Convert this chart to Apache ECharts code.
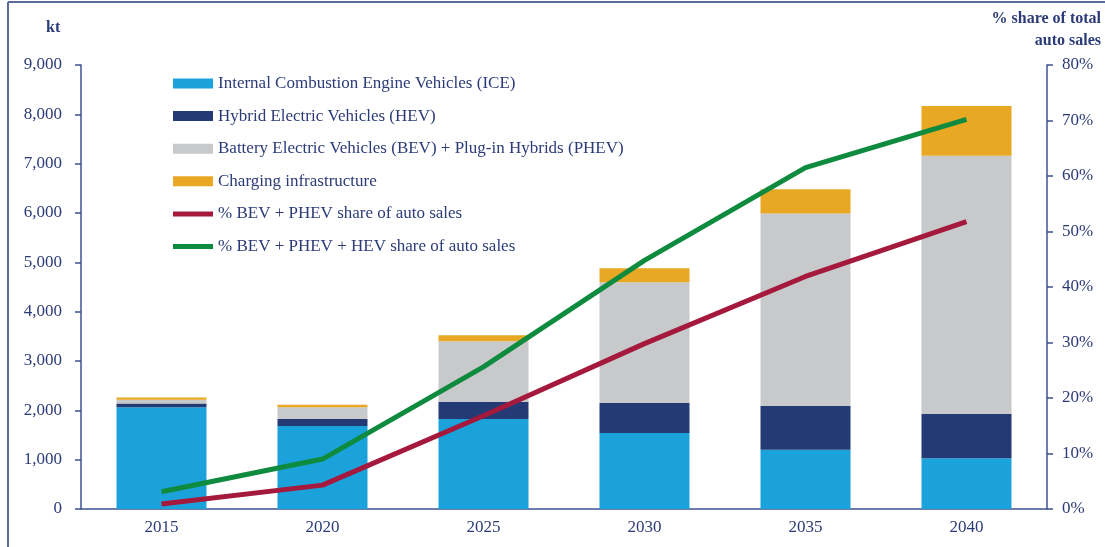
<!DOCTYPE html>
<html>
<head>
<meta charset="utf-8">
<script src="https://cdn.jsdelivr.net/npm/echarts@6/dist/echarts.min.js"></script>
<style>
  html, body { margin: 0; padding: 0; background: #fff; }
  #chart { width: 1105px; height: 547px; }
</style>
</head>
<body>
<div id="chart"></div>
<script>
var years = ['2015', '2020', '2025', '2030', '2035', '2040'];

// kt, stacked
var ice = [2060, 1680, 1825, 1540, 1200, 1030];
var hev = [80, 145, 350, 610, 895, 895];
var bevPhev = [75, 235, 1225, 2445, 3895, 5235];
var charging = [45, 55, 120, 285, 490, 1010];

// % share of total auto sales
var shareBev = [0.9, 4.3, 16.8, 29.8, 41.9, 51.8];
var shareBevHev = [3.1, 9.0, 25.6, 44.8, 61.5, 70.2];

var names = [
    'Internal Combustion Engine Vehicles (ICE)',
    'Hybrid Electric Vehicles (HEV)',
    'Battery Electric Vehicles (BEV) + Plug-in Hybrids (PHEV)',
    'Charging infrastructure',
    '% BEV + PHEV share of auto sales',
    '% BEV + PHEV + HEV share of auto sales'
];

var navy = '#2c3b78';
var axisColor = '#3f5191';
var serif = '"Liberation Serif", "DejaVu Serif", serif';
var thinIcon = 'path://M0,0H40V5H0Z';

var myChart = echarts.init(document.getElementById('chart'));

var option = {
    animation: false,
    textStyle: { fontFamily: serif, color: navy },
    grid: { left: 81, right: 58, top: 65, bottom: 38 },
    legend: {
        orient: 'vertical',
        left: 168,
        top: 70,
        itemWidth: 40,
        itemHeight: 10,
        itemGap: 15.6,
        textStyle: { fontFamily: serif, fontSize: 17, color: navy },
        data: [
            { name: names[0], icon: 'rect' },
            { name: names[1], icon: 'rect' },
            { name: names[2], icon: 'rect' },
            { name: names[3], icon: 'rect' },
            { name: names[4], icon: thinIcon },
            { name: names[5], icon: thinIcon }
        ]
    },
    graphic: [
        { type: 'line', shape: { x1: 8, y1: 2, x2: 8, y2: 547 }, style: { stroke: '#5b6b9b', lineWidth: 2 } },
        { type: 'line', shape: { x1: 8, y1: 2, x2: 1105, y2: 2 }, style: { stroke: '#5b6b9b', lineWidth: 2 } },
        { type: 'text', left: 46, top: 20, style: { text: 'kt', font: 'bold 16px ' + serif, fill: navy } },
        { type: 'text', right: 4, top: 11, style: { text: '% share of total', font: 'bold 16px ' + serif, fill: navy } },
        { type: 'text', right: 4, top: 33, style: { text: 'auto sales', font: 'bold 16px ' + serif, fill: navy } }
    ],
    xAxis: {
        type: 'category',
        data: years,
        axisLine: { lineStyle: { color: axisColor, width: 1.5 } },
        axisTick: { length: 5, lineStyle: { color: axisColor, width: 1.5 } },
        axisLabel: { color: navy, fontSize: 17, fontFamily: serif, margin: 10 }
    },
    yAxis: [
        {
            type: 'value',
            min: 0,
            max: 9000,
            interval: 1000,
            splitLine: { show: false },
            axisLine: { show: true, lineStyle: { color: axisColor, width: 1.5 } },
            axisTick: { show: true, length: 6, lineStyle: { color: axisColor, width: 1.5 } },
            axisLabel: {
                color: navy, fontSize: 17, fontFamily: serif, margin: 19,
                formatter: function (v) { return v.toLocaleString('en-US'); }
            }
        },
        {
            type: 'value',
            min: 0,
            max: 80,
            interval: 10,
            position: 'right',
            splitLine: { show: false },
            axisLine: { show: true, lineStyle: { color: axisColor, width: 1.5 } },
            axisTick: { show: true, length: 6, lineStyle: { color: axisColor, width: 1.5 } },
            axisLabel: { color: navy, fontSize: 17, fontFamily: serif, margin: 15, formatter: '{value}%' }
        }
    ],
    series: [
        { name: names[0], type: 'bar', stack: 'kt', barWidth: 90, itemStyle: { color: '#1ca2db' }, data: ice },
        { name: names[1], type: 'bar', stack: 'kt', barWidth: 90, itemStyle: { color: '#233a75' }, data: hev },
        { name: names[2], type: 'bar', stack: 'kt', barWidth: 90, itemStyle: { color: '#c8c9cb' }, data: bevPhev },
        { name: names[3], type: 'bar', stack: 'kt', barWidth: 90, itemStyle: { color: '#e9a823' }, data: charging },
        {
            name: names[4], type: 'line', yAxisIndex: 1, symbol: 'none', z: 5,
            itemStyle: { color: '#a5193d' },
            lineStyle: { color: '#a5193d', width: 5, cap: 'butt' },
            data: shareBev
        },
        {
            name: names[5], type: 'line', yAxisIndex: 1, symbol: 'none', z: 5,
            itemStyle: { color: '#0e8b3e' },
            lineStyle: { color: '#0e8b3e', width: 5, cap: 'butt' },
            data: shareBevHev
        }
    ]
};

myChart.setOption(option);
</script>
</body>
</html>
